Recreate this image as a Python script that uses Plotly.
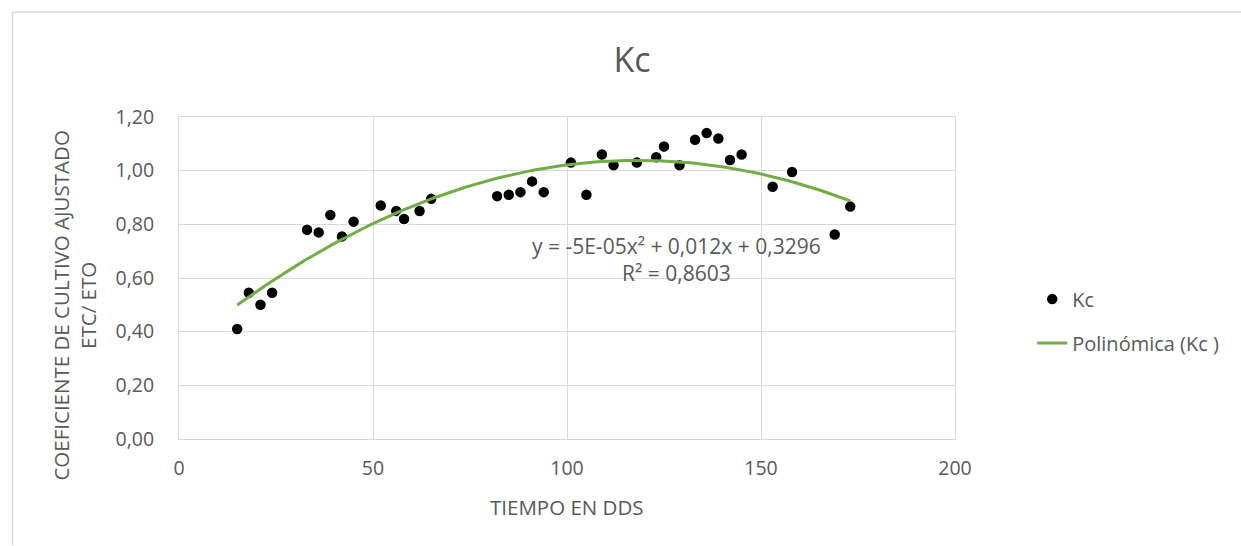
import numpy as np
import plotly.graph_objects as go

# Data
dds = [15, 18, 21, 24, 33, 36, 39, 42, 45, 52, 56, 58, 62, 65,
       82, 85, 88, 91, 94, 101, 105, 109, 112, 118, 123, 125, 129,
       133, 136, 139, 142, 145, 153, 158, 169, 173]
kc = [0.41, 0.545, 0.50, 0.545, 0.78, 0.77, 0.835, 0.755, 0.81, 0.87, 0.85, 0.82, 0.85, 0.895,
      0.905, 0.91, 0.92, 0.96, 0.92, 1.03, 0.91, 1.06, 1.02, 1.03, 1.05, 1.09, 1.02,
      1.115, 1.14, 1.12, 1.04, 1.06, 0.94, 0.995, 0.762, 0.866]
x_ticks = [0, 50, 100, 150, 200]
y_ticks = [0.0, 0.2, 0.4, 0.6, 0.8, 1.0, 1.2]

title_text = "Kc"
x_title = "TIEMPO EN DDS"
y_title = "COEFICIENTE DE CULTIVO AJUSTADO<br>ETC/ ETO"
eq_text = "y = -5E-05x² + 0,012x + 0,3296<br>R² = 0,8603"

FONT = "Open Sans"
GREY = "#595959"
GRID = "#D9D9D9"

coef = np.polyfit(dds, kc, 2)
xs = np.linspace(min(dds), max(dds), 200)
ys = np.polyval(coef, xs)

fig = go.Figure()
fig.add_trace(go.Scatter(
    x=dds, y=kc, mode="markers", name="Kc",
    marker=dict(color="black", size=12, line=dict(color="white", width=1.5)),
    legendgroup="a"))
fig.add_trace(go.Scatter(
    x=xs, y=ys, mode="lines", name="Polinómica (Kc )",
    line=dict(color="#70AD47", width=3), legendgroup="b"))

fig.add_annotation(x=128.3, y=0.6685, xref="x", yref="y", text=eq_text,
                   showarrow=False, align="center", xanchor="center", yanchor="middle",
                   font=dict(family=FONT, size=21, color=GREY))
fig.add_annotation(x=(75 - 179) / 776, y=1 - (306 - 117.3) / 322.2,
                   xref="paper", yref="paper", text=y_title,
                   textangle=-90, showarrow=False, align="center",
                   xanchor="center", yanchor="middle",
                   font=dict(family=FONT, size=20.5, color=GREY))
fig.add_annotation(x=(567 - 179) / 776, y=(439.5 - 508) / 322.2,
                   xref="paper", yref="paper", text=x_title,
                   xanchor="center", yanchor="middle",
                   showarrow=False, font=dict(family=FONT, size=20.5, color=GREY))

# outer chart border (top and left visible)
fig.add_shape(type="line", xref="paper", yref="paper",
              x0=(12 - 179) / 776, x1=(1241 - 179) / 776,
              y0=1 + (117.3 - 12.5) / 322.2, y1=1 + (117.3 - 12.5) / 322.2,
              line=dict(color=GRID, width=1.5))
fig.add_shape(type="line", xref="paper", yref="paper",
              x0=(12.5 - 179) / 776, x1=(12.5 - 179) / 776,
              y0=1 + (117.3 - 12.5) / 322.2, y1=-(546 - 439.5) / 322.2,
              line=dict(color=GRID, width=1.5))

fig.update_layout(
    width=1241, height=546,
    margin=dict(l=179, r=286, t=117, b=107),
    paper_bgcolor="white", plot_bgcolor="white",
    separators=", ",
    font=dict(family=FONT, size=19, color=GREY),
    title=dict(text=title_text, x=632 / 1241, xanchor="center",
               y=1 - 60 / 546, yanchor="middle",
               font=dict(family=FONT, size=34, color=GREY)),
    showlegend=True,
    legend=dict(x=1.0995, y=0.495, xanchor="left", yanchor="top",
                font=dict(family=FONT, size=20, color=GREY),
                traceorder="grouped", tracegroupgap=15,
                bgcolor="rgba(0,0,0,0)"),
    xaxis=dict(range=[0, 200], tickvals=x_ticks, showgrid=True, gridcolor=GRID,
               gridwidth=1, zeroline=False, showline=True, mirror=True,
               linecolor=GRID, linewidth=1, ticks="", ticklabelstandoff=12,
               tickfont=dict(family=FONT, size=19.5, color=GREY)),
    yaxis=dict(range=[0, 1.2], tickvals=y_ticks, tickformat=".2f", showgrid=True,
               gridcolor=GRID, gridwidth=1, zeroline=False, showline=True,
               mirror=True, linecolor=GRID, linewidth=1, ticks="",
               ticklabelstandoff=20,
               tickfont=dict(family=FONT, size=19.5, color=GREY)),
)

fig.write_html("out.html")
